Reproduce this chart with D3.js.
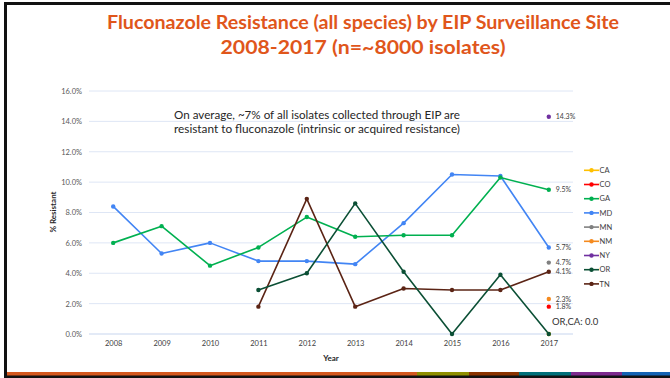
<!DOCTYPE html>
<html>
<head>
<meta charset="utf-8">
<script src="https://cdn.jsdelivr.net/npm/d3@7"></script>
<style>
  html, body { margin: 0; padding: 0; background: #fff; }
  svg { display: block; }
</style>
</head>
<body>
<svg id="chart" width="670" height="378"></svg>
<script>
// Surveillance years and per-site fluconazole resistance (%)
const years = [2008, 2009, 2010, 2011, 2012, 2013, 2014, 2015, 2016, 2017];
const sites = ["CA", "CO", "GA", "MD", "MN", "NM", "NY", "OR", "TN"];
const siteColors = ["#FFC000", "#FF0000", "#00B050", "#4285F4", "#808080", "#F58A1F", "#7030A0", "#0B4F35", "#5B2415"];

const valCA = [null, null, null, null, null, null, null, null, null, 0.0];
const valCO = [null, null, null, null, null, null, null, null, null, 1.8];
const valGA = [6.0, 7.1, 4.5, 5.7, 7.7, 6.4, 6.5, 6.5, 10.3, 9.5];
const valMD = [8.4, 5.3, 6.0, 4.8, 4.8, 4.6, 7.3, 10.5, 10.4, 5.7];
const valMN = [null, null, null, null, null, null, null, null, null, 4.7];
const valNM = [null, null, null, null, null, null, null, null, null, 2.3];
const valNY = [null, null, null, null, null, null, null, null, null, 14.3];
const valOR = [null, null, null, 2.9, 4.0, 8.6, 4.1, 0.0, 3.9, 0.0];
const valTN = [null, null, null, 1.8, 8.9, 1.8, 3.0, 2.9, 2.9, 4.1];

// Labelled end values (2017), shown beside the last point
const endLabelSites = ["NY", "GA", "MD", "MN", "TN", "NM", "CO"];

const yTicks = [0, 2, 4, 6, 8, 10, 12, 14, 16];

const titleLines = ["Fluconazole Resistance (all species) by EIP Surveillance Site", "2008-2017 (n=~8000 isolates)"];
const noteLines = ["On average, ~7% of all isolates collected through EIP are", "resistant to fluconazole (intrinsic or acquired resistance)"];

const stripeColors = ["#D4581E", "#8F8F00", "#8A3300", "#00707A", "#7D2A8E", "#1463B4"];
const stripeStops = [7, 417, 469, 519, 571, 622, 670];

const seriesValues = [valCA, valCO, valGA, valMD, valMN, valNM, valNY, valOR, valTN];
const series = sites.map((s, i) => ({
  name: s,
  color: siteColors[i],
  points: years.map((y, j) => ({ year: y, value: seriesValues[i][j] })).filter(d => d.value !== null)
}));

const svg = d3.select("#chart");
const font = "Lato, 'Open Sans', sans-serif";

// Slide frame
svg.append("rect").attr("x", 0).attr("y", 0).attr("width", 670).attr("height", 378).attr("fill", "#fff");
svg.append("rect").attr("x", 4).attr("y", 2).attr("width", 666).attr("height", 3).attr("fill", "#111");
svg.append("rect").attr("x", 4).attr("y", 2).attr("width", 3).attr("height", 375).attr("fill", "#111");
svg.append("rect").attr("x", 4).attr("y", 375).attr("width", 666).attr("height", 3).attr("fill", "#111");
svg.selectAll("rect.stripe").data(stripeColors).join("rect")
  .attr("class", "stripe")
  .attr("x", (d, i) => stripeStops[i])
  .attr("y", 372)
  .attr("width", (d, i) => stripeStops[i + 1] - stripeStops[i])
  .attr("height", 3.5)
  .attr("fill", d => d);

// Title
const titleWidths = [512, 285];
svg.selectAll("text.title").data(titleLines).join("text")
  .attr("class", "title")
  .attr("x", 363)
  .attr("y", (d, i) => 29 + i * 25)
  .attr("text-anchor", "middle")
  .attr("font-family", font)
  .attr("font-weight", "bold")
  .attr("font-size", 19.5)
  .attr("fill", "#E0561B")
  .attr("textLength", (d, i) => titleWidths[i])
  .attr("lengthAdjust", "spacingAndGlyphs")
  .text(d => d);

// Scales
const x = d3.scalePoint().domain(years).range([89, 573]).padding(0.5);
const y = d3.scaleLinear().domain([0, 16]).range([334, 91]);

// Gridlines
svg.append("g").selectAll("line").data(yTicks).join("line")
  .attr("x1", 89).attr("x2", 573)
  .attr("y1", d => y(d)).attr("y2", d => y(d))
  .attr("stroke", d => d === 0 ? "#C7D5EE" : "#DEE6F5")
  .attr("stroke-width", 1);

// Y axis labels
const yAxis = svg.append("g").attr("transform", "translate(82,0)")
  .call(d3.axisLeft(y).tickValues(yTicks).tickSize(0).tickPadding(0).tickFormat(d => d3.format(".1f")(d) + "%"));
yAxis.select(".domain").remove();
yAxis.selectAll("text").attr("font-family", font).attr("font-size", 7.5).attr("fill", "#595959");

// X axis labels
const xAxis = svg.append("g").attr("transform", "translate(0,341)")
  .call(d3.axisBottom(x).tickSize(0).tickPadding(0).tickFormat(d3.format("d")));
xAxis.select(".domain").remove();
xAxis.selectAll("text").attr("font-family", font).attr("font-size", 7.5).attr("fill", "#404040");

// Axis titles
svg.append("text").attr("x", 331).attr("y", 361).attr("text-anchor", "middle")
  .attr("font-family", font).attr("font-weight", "bold").attr("font-size", 8).attr("fill", "#262626")
  .text("Year");
svg.append("text").attr("transform", "translate(56,212) rotate(-90)").attr("text-anchor", "middle")
  .attr("font-family", font).attr("font-weight", "bold").attr("font-size", 8).attr("fill", "#262626")
  .text("% Resistant");

// Series lines and markers
const line = d3.line().x(d => x(d.year)).y(d => y(d.value));
const drawOrder = ["CA", "CO", "NM", "MN", "NY", "MD", "GA", "TN", "OR"];
const ordered = drawOrder.map(n => series.find(s => s.name === n));

const g = svg.append("g");
ordered.forEach(s => {
  if (s.points.length > 1) {
    g.append("path").datum(s.points)
      .attr("d", line).attr("fill", "none")
      .attr("stroke", s.color).attr("stroke-width", 1.6)
      .attr("stroke-linejoin", "round");
  }
  g.selectAll(null).data(s.points).join("circle")
    .attr("cx", d => x(d.year)).attr("cy", d => y(d.value))
    .attr("r", 2.2).attr("fill", s.color);
});

// End value labels
const lastYear = years[years.length - 1];
svg.append("g").selectAll("text").data(endLabelSites.map(n => series.find(s => s.name === n))).join("text")
  .attr("x", x(lastYear) + 7)
  .attr("y", s => y(s.points[s.points.length - 1].value) + 2.6)
  .attr("font-family", font).attr("font-size", 7).attr("fill", "#404040")
  .text(s => d3.format(".1f")(s.points[s.points.length - 1].value) + "%");

svg.append("text").attr("x", 552).attr("y", 325)
  .attr("font-family", font).attr("font-size", 9.5).attr("fill", "#333")
  .text("OR,CA: " + d3.format(".1f")(valOR[valOR.length - 1]));

// Annotation
svg.selectAll("text.note").data(noteLines).join("text")
  .attr("class", "note")
  .attr("x", 174)
  .attr("y", (d, i) => 119 + i * 13.5)
  .attr("font-family", font).attr("font-size", 10.5).attr("fill", "#262626")
  .attr("textLength", (d, i) => [286, 286][i])
  .attr("lengthAdjust", "spacingAndGlyphs")
  .text(d => d);

// Legend
const legend = svg.append("g").selectAll("g").data(series).join("g")
  .attr("transform", (d, i) => `translate(584,${170.3 + i * 14.2})`);
legend.append("line").attr("x1", 0).attr("x2", 15).attr("y1", 0).attr("y2", 0)
  .attr("stroke", d => d.color).attr("stroke-width", 1.6);
legend.append("circle").attr("cx", 7.5).attr("cy", 0).attr("r", 2.2).attr("fill", d => d.color);
legend.append("text").attr("x", 15.5).attr("y", 2.6)
  .attr("font-family", font).attr("font-size", 7.5).attr("fill", "#404040")
  .text(d => d.name);
</script>
</body>
</html>
